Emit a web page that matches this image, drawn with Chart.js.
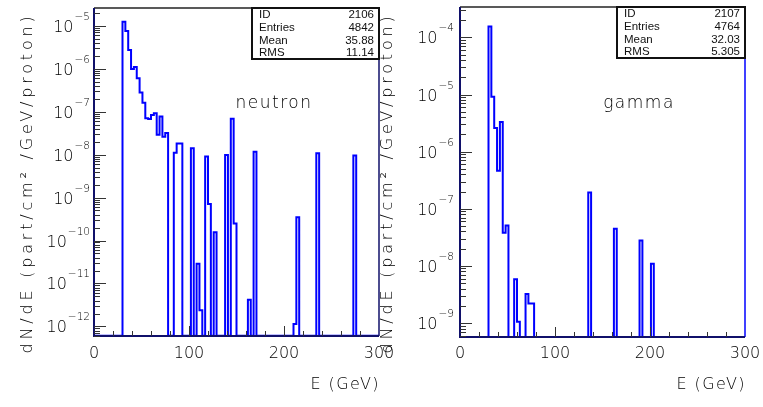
<!DOCTYPE html>
<html><head><meta charset="utf-8">
<script src="https://cdn.jsdelivr.net/npm/chart.js@4/dist/chart.umd.min.js"></script>
<style>
html,body{margin:0;padding:0;background:#fff;width:763px;height:407px;overflow:hidden}
canvas{position:absolute;top:0}
#l{left:0}
#r{left:376px}
</style></head><body>
<canvas id="l" width="400" height="407"></canvas>
<canvas id="r" width="387" height="407"></canvas>
<script>
// ---- data (bin lower edges in GeV, bin width 3 GeV; bins not listed are empty) ----
const binWidth = 3;
const neutronE = [30,33,36,39,42,45,48,51,54,57,60,63,66,69,72,75,84,87,90,102,108,111,117,120,126,138,144,147,162,168,210,213,234,273];
const neutronVal = [1.24e-5,7.5e-6,2.7e-6,9.8e-7,1.1e-6,6.0e-7,2.8e-7,1.6e-7,7.0e-8,6.7e-8,8.4e-8,9.2e-8,2.9e-8,7.7e-8,2.6e-8,3.2e-8,1.1e-8,1.8e-8,1.8e-8,1.4e-8,2.9e-11,2.4e-12,9.0e-9,7.1e-10,1.55e-10,9.8e-9,6.8e-8,2.5e-10,4.2e-12,1.17e-8,1.14e-12,3.5e-10,1.08e-8,9.5e-9];
const gammaE = [30,33,36,39,42,45,48,57,60,69,72,75,135,162,189,201];
const gammaVal = [1.56e-4,9.1e-6,2.6e-6,4.65e-7,3.3e-6,3.8e-8,5.1e-8,5.85e-9,1.05e-9,3.2e-9,2.2e-9,2.2e-9,1.92e-7,4.46e-8,2.78e-8,1.09e-8];
const xTicks = [0,100,200,300];
const neutronDecades = [-5,-6,-7,-8,-9,-10,-11,-12];
const gammaDecades = [-4,-5,-6,-7,-8,-9];
const neutronStats = [['ID','2106'],['Entries','4842'],['Mean','35.88'],['RMS','11.14']];
const gammaStats = [['ID','2107'],['Entries','4764'],['Mean','32.03'],['RMS','5.305']];
const yTitle = 'dN/dE (part/cm\u00B2 /GeV/proton)';
const xTitle = 'E (GeV)';

const FONT = '"DejaVu Sans", sans-serif';
const W = '200 ';
const TXT = '#000';

function histPoints(E, V, floor) {
  const pts = [{x:0, y:floor}];
  for (let i = 0; i < E.length; i++) {
    pts.push({x:E[i], y:V[i]});
    if (i === E.length - 1 || E[i+1] !== E[i] + binWidth) pts.push({x:E[i] + binWidth, y:floor});
  }
  pts.push({x:300, y:floor});
  return pts;
}

function decorPlugin(o) {
  return {
    id: 'decor',
    afterDraw(chart) {
      const ctx = chart.ctx, a = chart.chartArea, xs = chart.scales.x, ys = chart.scales.y;
      ctx.save();
      // frame
      ctx.lineWidth = 1.5;
      ctx.strokeStyle = '#222';
      ctx.beginPath(); ctx.moveTo(a.left, a.top); ctx.lineTo(a.right, a.top); ctx.stroke();
      ctx.strokeStyle = o.rightColor;
      ctx.beginPath(); ctx.moveTo(a.right, a.top); ctx.lineTo(a.right, a.bottom); ctx.stroke();
      ctx.lineWidth = 2;
      ctx.strokeStyle = '#10106a';
      ctx.beginPath(); ctx.moveTo(a.left, a.top); ctx.lineTo(a.left, a.bottom); ctx.lineTo(a.right, a.bottom); ctx.stroke();
      // y ticks (log)
      ctx.lineWidth = 1;
      ctx.strokeStyle = '#333';
      const lo = Math.floor(Math.log10(ys.min)), hi = Math.ceil(Math.log10(ys.max));
      for (let d = lo; d <= hi; d++) {
        for (let k = 1; k <= 9; k++) {
          const v = k * Math.pow(10, d);
          if (v < ys.min || v > ys.max) continue;
          const py = Math.round(ys.getPixelForValue(v)) + 0.5;
          const len = k === 1 ? 12 : 6;
          ctx.beginPath(); ctx.moveTo(a.left, py); ctx.lineTo(a.left + len, py); ctx.stroke();
        }
      }
      // x ticks
      for (let v = 20; v < 300; v += 20) {
        const px = Math.round(xs.getPixelForValue(v)) + 0.5;
        const len = v % 100 === 0 ? 10 : 5;
        ctx.beginPath(); ctx.moveTo(px, a.bottom); ctx.lineTo(px, a.bottom - len); ctx.stroke();
      }
      // y labels: "10" with superscript exponent, right-aligned group
      ctx.fillStyle = TXT;
      ctx.textBaseline = 'alphabetic';
      o.decades.forEach(d => {
        const py = ys.getPixelForValue(Math.pow(10, d));
        const ex = '\u2212' + Math.abs(d);
        ctx.font = W + '10.5px ' + FONT;
        const ew = ctx.measureText(ex).width;
        ctx.textAlign = 'left';
        ctx.fillText(ex, o.labelRight - ew, py - 6);
        ctx.font = W + '16px ' + FONT;
        ctx.textAlign = 'right';
        ctx.fillText('10', o.labelRight - ew - 1, py + 6);
      });
      // x labels
      ctx.font = W + '16px ' + FONT;
      ctx.textAlign = 'center';
      xTicks.forEach(v => ctx.fillText(String(v), xs.getPixelForValue(v), 358));
      // x title
      ctx.letterSpacing = '1.4px';
      ctx.textAlign = 'right';
      ctx.fillText(xTitle, a.right + 1, 389);
      // particle label
      ctx.letterSpacing = '1.5px';
      ctx.textAlign = 'center';
      ctx.font = W + '17px ' + FONT;
      ctx.fillText(o.name, o.nameX, o.nameY);
      // y title
      ctx.save();
      ctx.font = W + '16px ' + FONT;
      ctx.letterSpacing = '3.8px';
      ctx.translate(o.titleX, 183);
      ctx.rotate(-Math.PI / 2);
      ctx.textAlign = 'center';
      ctx.fillText(yTitle, 0, 0);
      ctx.restore();
      // stats box
      ctx.letterSpacing = '0px';
      const bx = o.boxX, bw = a.right - o.boxX;
      ctx.fillStyle = '#fff';
      ctx.fillRect(bx, a.top, bw, 51);
      ctx.lineWidth = 2;
      ctx.strokeStyle = '#111';
      ctx.strokeRect(bx, a.top, bw, 51);
      ctx.fillStyle = '#111';
      ctx.font = '11.5px "Liberation Sans", Arial, sans-serif';
      o.stats.forEach((r, i) => {
        const by = a.top + 10 + i * 12.8;
        ctx.textAlign = 'left'; ctx.fillText(r[0], bx + 7, by);
        ctx.textAlign = 'right'; ctx.fillText(r[1], a.right - 5, by);
      });
      ctx.restore();
    }
  };
}

function makeChart(id, E, V, o) {
  new Chart(document.getElementById(id), {
    type: 'line',
    data: { datasets: [{
      data: histPoints(E, V, o.yMin),
      stepped: true, borderColor: '#0000ff', borderWidth: 2,
      pointRadius: 0, fill: false, tension: 0
    }]},
    options: {
      responsive: false, animation: false, events: [],
      layout: { padding: o.pad },
      plugins: { legend: { display: false }, tooltip: { enabled: false } },
      scales: {
        x: { type: 'linear', min: 0, max: 300, display: false },
        y: { type: 'logarithmic', min: o.yMin, max: o.yMax, display: false }
      }
    },
    plugins: [decorPlugin(o)]
  });
}

makeChart('l', neutronE, neutronVal, {
  yMin: 6.08e-13, yMax: 2.58e-5,
  pad: { left: 94, right: 21, top: 8, bottom: 71 },
  decades: neutronDecades, labelRight: 90, rightColor: '#10106a',
  name: 'neutron', nameX: 274, nameY: 108,
  titleX: 31.5, boxX: 252, stats: neutronStats
});
makeChart('r', gammaE, gammaVal, {
  yMin: 5.68e-10, yMax: 3.41e-4,
  pad: { left: 84, right: 18, top: 7, bottom: 70 },
  decades: gammaDecades, labelRight: 454 - 376, rightColor: '#0000ff',
  name: 'gamma', nameX: 639 - 376, nameY: 108,
  titleX: 392 - 376, boxX: 617 - 376, stats: gammaStats
});
</script>
</body></html>
